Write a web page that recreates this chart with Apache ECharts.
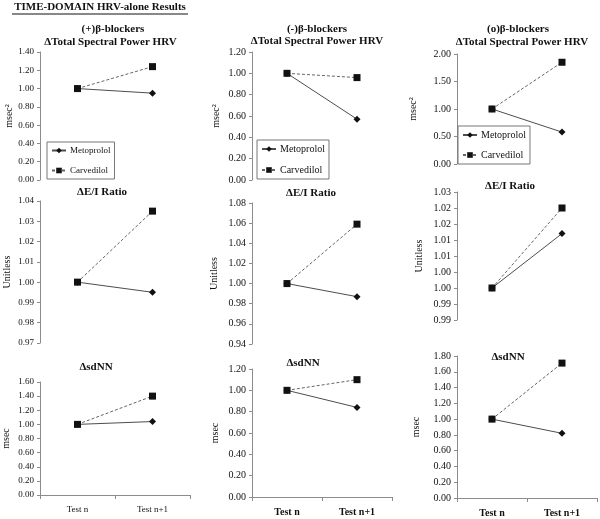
<!DOCTYPE html>
<html><head><meta charset="utf-8">
<script src="https://cdn.jsdelivr.net/npm/echarts@6/dist/echarts.min.js"></script>
<style>html,body{margin:0;padding:0;background:#fff}#c{width:600px;height:519px}</style>
</head><body><div id="c"></div>
<script>
// ---- data ----
const categories = ['Test n', 'Test n+1'];
const seriesNames = ['Metoprolol', 'Carvedilol'];
const mainTitle = 'TIME-DOMAIN HRV-alone Results';
const groupTitles = ['(+)β-blockers', '(-)β-blockers', '(o)β-blockers'];
const measureTitles = ['ΔTotal Spectral Power HRV', 'ΔE/I Ratio', 'ΔsdNN'];
const unitNames = ['msec²', 'Unitless', 'msec'];

// Total spectral power
const posTSP_Meto = [1.00, 0.95];
const posTSP_Carv = [1.00, 1.24];
const negTSP_Meto = [1.00, 0.57];
const negTSP_Carv = [1.00, 0.96];
const neuTSP_Meto = [1.00, 0.58];
const neuTSP_Carv = [1.00, 1.85];
// E/I ratio
const posEI_Meto = [1.000, 0.995];
const posEI_Carv = [1.000, 1.035];
const negEI_Meto = [1.000, 0.987];
const negEI_Carv = [1.000, 1.059];
const neuEI_Meto = [1.000, 1.017];
const neuEI_Carv = [1.000, 1.025];
// sdNN
const posSD_Meto = [1.00, 1.04];
const posSD_Carv = [1.00, 1.40];
const negSD_Meto = [1.00, 0.84];
const negSD_Carv = [1.00, 1.10];
const neuSD_Meto = [1.00, 0.82];
const neuSD_Carv = [1.00, 1.71];

// y-axis scales [min, max, interval]
const posTSP_Scale = [0, 1.4, 0.2];
const negTSP_Scale = [0, 1.2, 0.2];
const neuTSP_Scale = [0, 2.0, 0.5];
const posEI_Scale = [0.97, 1.04, 0.01];
const negEI_Scale = [0.94, 1.08, 0.02];
const neuEI_Scale = [0.99, 1.03, 0.005];
const posSD_Scale = [0, 1.6, 0.2];
const negSD_Scale = [0, 1.2, 0.2];
const neuSD_Scale = [0, 1.8, 0.2];
// tick labels of the (o) E/I panel as printed (2 decimals of 0.005 steps)
const neuEI_TickLabels = ['0.99', '0.99', '1.00', '1.00', '1.01', '1.01', '1.02', '1.02', '1.03'];

// ---- layout ----
const FONT = '"Liberation Serif", "Times New Roman", serif';
const panels = [
  {m: posTSP_Meto, c: posTSP_Carv, s: posTSP_Scale, grid: {left: 40, top: 52, width: 150, height: 128}, unit: 0, gap: 24, fs: 9, npad: [0, 0, 0, 0], legend: {left: 47, top: 142, gap: 11}},
  {m: negTSP_Meto, c: negTSP_Carv, s: negTSP_Scale, grid: {left: 252, top: 52, width: 140, height: 128}, unit: 0, gap: 31, fs: 10, npad: [0, 0, 0, 0], legend: {left: 257, top: 140, gap: 11}},
  {m: neuTSP_Meto, c: neuTSP_Carv, s: neuTSP_Scale, grid: {left: 457, top: 54, width: 140, height: 110}, unit: 0, gap: 39, fs: 10, npad: [0, 0, 0, 0], legend: {left: 458, top: 126, gap: 10}},
  {m: posEI_Meto, c: posEI_Carv, s: posEI_Scale, grid: {left: 40, top: 201, width: 150, height: 142}, unit: 1, gap: 28, fs: 9, npad: [0, 0, 0, 0]},
  {m: negEI_Meto, c: negEI_Carv, s: negEI_Scale, grid: {left: 252, top: 203, width: 140, height: 141}, unit: 1, gap: 33, fs: 10, npad: [0, 0, 0, 0]},
  {m: neuEI_Meto, c: neuEI_Carv, s: neuEI_Scale, grid: {left: 457, top: 192, width: 140, height: 128}, unit: 1, gap: 33, fs: 10, npad: [0, 0, 0, 0], labels: neuEI_TickLabels},
  {m: posSD_Meto, c: posSD_Carv, s: posSD_Scale, grid: {left: 40, top: 382, width: 150, height: 113}, unit: 2, gap: 29, fs: 9, npad: [0, 0, 0, 0], xlab: 'normal'},
  {m: negSD_Meto, c: negSD_Carv, s: negSD_Scale, grid: {left: 252, top: 369, width: 140, height: 128}, unit: 2, gap: 32, fs: 10, npad: [0, 0, 0, 0], xlab: 'bold'},
  {m: neuSD_Meto, c: neuSD_Carv, s: neuSD_Scale, grid: {left: 457, top: 356, width: 140, height: 142}, unit: 2, gap: 36, fs: 10, npad: [0, 0, 0, 0], xlab: 'bold'}
];

const grid = [], xAxis = [], yAxis = [], series = [], legend = [];
panels.forEach((p, i) => {
  grid.push(Object.assign({containLabel: false}, p.grid));
  const bottomRow = !!p.xlab;
  xAxis.push({
    type: 'category', gridIndex: i, data: categories, boundaryGap: true,
    show: bottomRow,
    axisLine: {show: bottomRow, lineStyle: {color: '#8c8c8c', width: 1}},
    axisTick: {show: bottomRow, length: 4, alignWithLabel: false, lineStyle: {color: '#8c8c8c'}},
    axisLabel: {show: bottomRow, margin: 10, color: '#111', fontFamily: FONT, fontSize: p.xlab === 'bold' ? 10 : 9, fontWeight: p.xlab || 'normal'}
  });
  const [mn, mx, iv] = p.s;
  yAxis.push({
    type: 'value', gridIndex: i, min: mn, max: mx, interval: iv,
    name: unitNames[p.unit], nameLocation: 'middle', nameGap: p.gap, nameRotate: 90,
    nameTextStyle: {fontFamily: FONT, fontSize: 10, color: '#111'},
    axisLine: {show: true, lineStyle: {color: '#8c8c8c', width: 1}},
    axisTick: {show: true, inside: false, length: 3, lineStyle: {color: '#8c8c8c'}},
    splitLine: {show: false},
    axisLabel: {
      margin: 6, color: '#111', fontFamily: FONT, fontSize: p.fs,
      formatter: p.labels ? (v => p.labels[Math.round((v - mn) / iv)]) : (v => v.toFixed(2))
    }
  });
  series.push({
    name: seriesNames[0], type: 'line', xAxisIndex: i, yAxisIndex: i, data: p.m,
    symbol: 'diamond', symbolSize: 7, itemStyle: {color: '#111'},
    lineStyle: {color: '#4d4d4d', width: 1, type: 'solid'}, silent: true, animation: false
  });
  series.push({
    name: seriesNames[1], type: 'line', xAxisIndex: i, yAxisIndex: i, data: p.c,
    symbol: 'rect', symbolSize: 7, itemStyle: {color: '#111'},
    lineStyle: {color: '#666', width: 1, type: [3, 2]}, silent: true, animation: false
  });
  if (p.legend) {
    legend.push({
      data: seriesNames, orient: 'vertical', left: p.legend.left, top: p.legend.top,
      backgroundColor: '#fff', borderColor: '#777', borderWidth: 1,
      padding: [4, 4, 4, 4], itemGap: p.legend.gap,
      itemWidth: 14, itemHeight: 7, selectedMode: false,
      textStyle: {fontFamily: FONT, fontSize: p.fs, color: '#111', padding: [0, 0, 0, -1]}
    });
  }
});

// titles as text graphics
const tfont = s => 'bold ' + s + 'px ' + FONT;
const txt = (text, x, y, size) => ({
  type: 'text', x: x, y: y,
  style: {text: text, font: tfont(size), fill: '#111', textAlign: 'center', textVerticalAlign: 'middle', verticalAlign: 'middle'}
});
const graphic = [
  txt(mainTitle, 100, 7, 11),
  {type: 'line', shape: {x1: 12, y1: 14, x2: 188, y2: 14}, style: {stroke: '#111', lineWidth: 1}},
  txt(groupTitles[0], 113, 29, 11), txt(measureTitles[0], 110.5, 42, 11),
  txt(groupTitles[1], 317, 29, 11), txt(measureTitles[0], 317, 41, 11),
  txt(groupTitles[2], 518, 29, 11), txt(measureTitles[0], 522, 42, 11),
  txt(measureTitles[1], 102, 192, 11), txt(measureTitles[1], 311, 193, 11), txt(measureTitles[1], 510, 186, 11),
  txt(measureTitles[2], 96, 367, 11), txt(measureTitles[2], 303, 363, 11), txt(measureTitles[2], 508, 357, 11)
];

const chart = echarts.init(document.getElementById('c'), null, {renderer: 'canvas'});
chart.setOption({backgroundColor: '#fff', animation: false, grid, xAxis, yAxis, series, legend, graphic});
</script></body></html>
